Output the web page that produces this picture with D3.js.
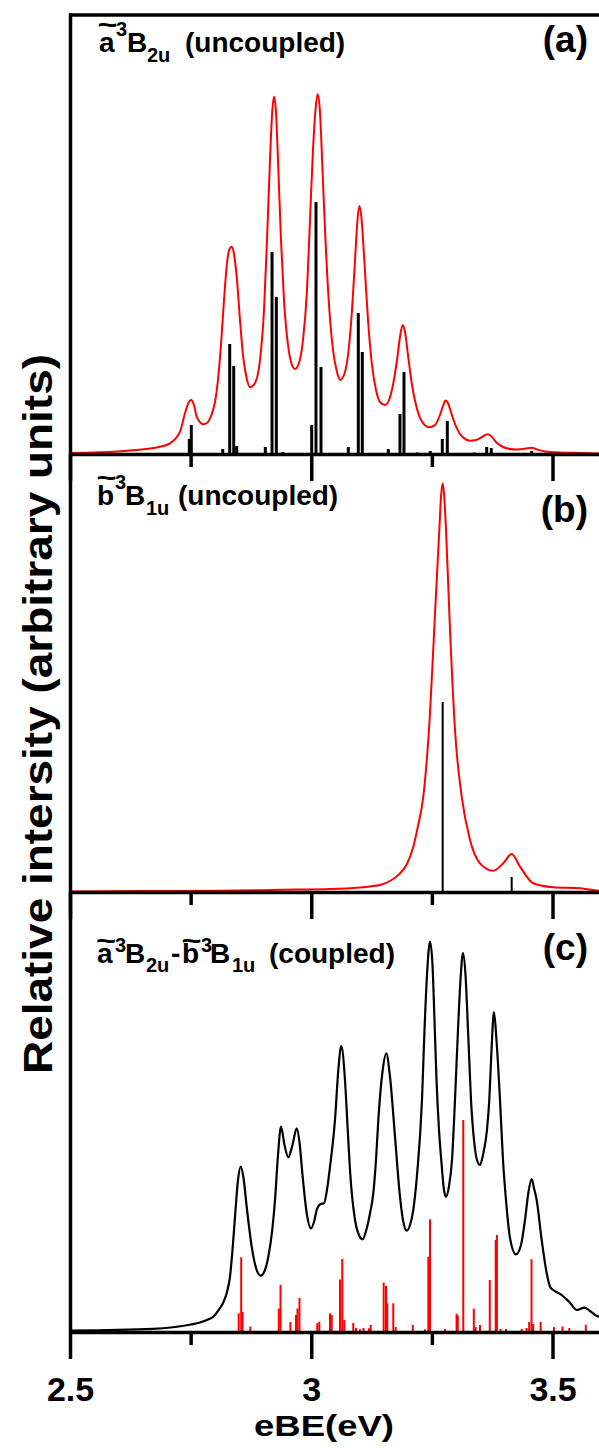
<!DOCTYPE html>
<html>
<head>
<meta charset="utf-8">
<script src="https://cdn.jsdelivr.net/npm/d3@7"></script>
<style>
  body { margin: 0; background: #fff; }
  svg { display: block; }
  text { font-family: "Liberation Sans", Arial, Helvetica, sans-serif; font-weight: bold; fill: #000; }
</style>
</head>
<body>
<svg id="chart" width="599" height="1448"></svg>
<script>
// ---- data: electron binding energy (eV) and relative intensity (arbitrary units) ----

const xTicks = [2.5, 2.75, 3, 3.25, 3.5];
const xTickLabels = ["2.5", "", "3", "", "3.5"];

// (a) ã3B2u uncoupled: broadened envelope and stick spectrum
const envelopeA = [
  [2.5000,1.0],[2.5622,1.7],[2.6244,3.5],[2.6865,7.3],[2.7073,10.7],[2.7280,22.3],[2.7383,40.7],
  [2.7452,50.7],[2.7508,54.0],[2.7570,49.0],[2.7626,37.3],[2.7763,29.7],[2.7839,31.0],[2.7922,38.0],
  [2.8005,52.0],[2.8067,74.0],[2.8129,109.0],[2.8192,154.0],[2.8254,191.0],[2.8306,205.0],[2.8351,207.3],
  [2.8399,200.0],[2.8461,174.0],[2.8523,134.0],[2.8585,99.0],[2.8648,79.0],[2.8731,66.7],[2.8834,71.0],
  [2.8938,94.0],[2.9021,144.0],[2.9083,214.0],[2.9145,294.0],[2.9187,339.0],[2.9228,357.3],[2.9269,342.0],
  [2.9311,294.0],[2.9373,214.0],[2.9435,154.0],[2.9518,109.0],[2.9601,89.0],[2.9663,85.0],[2.9746,91.0],
  [2.9829,114.0],[2.9912,164.0],[2.9974,234.0],[3.0036,304.0],[3.0088,344.0],[3.0134,359.7],[3.0181,342.0],
  [3.0233,284.0],[3.0295,214.0],[3.0368,149.0],[3.0451,104.0],[3.0534,82.0],[3.0596,74.0],[3.0679,79.0],
  [3.0762,99.0],[3.0845,144.0],[3.0907,194.0],[3.0958,234.0],[3.0996,248.0],[3.1041,236.0],[3.1093,199.0],
  [3.1176,134.0],[3.1259,89.0],[3.1342,64.0],[3.1425,52.0],[3.1528,49.0],[3.1611,54.0],[3.1694,69.0],
  [3.1777,94.0],[3.1839,117.0],[3.1895,129.0],[3.1943,122.0],[3.2005,99.0],[3.2088,69.0],[3.2171,49.0],
  [3.2275,34.0],[3.2447,26.7],[3.2565,29.0],[3.2668,39.0],[3.2730,48.0],[3.2786,53.5],[3.2834,51.0],
  [3.2896,42.0],[3.2979,30.0],[3.3083,20.0],[3.3207,14.5],[3.3290,13.3],[3.3414,14.0],[3.3539,17.0],
  [3.3649,19.7],[3.3725,18.0],[3.3829,12.0],[3.3974,7.0],[3.4119,5.0],[3.4264,4.5],[3.4430,5.2],
  [3.4569,6.3],[3.4679,4.5],[3.4844,2.5],[3.5155,1.5],[3.5570,1.0],[3.6005,0.5]
];
const sticksA = [
  [2.7473,15],[2.7514,29],[2.8165,5],[2.8310,110],[2.8393,88],[2.8455,8],[2.9048,7],[2.9187,202],
  [2.9276,157],[2.9408,2],[3.0009,29],[3.0098,252],[3.0202,87],[3.0768,7],[3.0975,141],[3.1058,102],
  [3.1321,1],[3.1597,5],[3.1839,40],[3.1922,82],[3.2198,1.5],[3.2467,3],[3.2716,15],[3.2820,33],
  [3.3379,1.5],[3.3636,7],[3.3731,6],[3.4569,3]
];

// (b) b̃3B1u uncoupled
const envelopeB = [
  [2.5000,0.6],[2.6658,0.9],[2.8109,1.2],[2.9352,2.2],[3.0389,3.0],[3.1010,4.6],[3.1218,5.6],
  [3.1425,7.0],[3.1632,11.0],[3.1839,18.7],[3.1984,28.0],[3.2115,45.3],[3.2212,66.0],[3.2322,95.3],
  [3.2461,178.7],[3.2565,278.7],[3.2654,362.0],[3.2689,395.0],[3.2724,408.7],[3.2757,395.0],[3.2793,362.0],
  [3.2876,262.0],[3.2979,162.0],[3.3118,95.3],[3.3290,52.0],[3.3497,28.7],[3.3773,21.3],[3.3980,28.7],
  [3.4154,38.0],[3.4326,25.3],[3.4602,8.7],[3.5016,4.7],[3.5570,3.7],[3.5964,1.3],[3.6005,1.2]
];
const sticksB = [[3.2724,190],[3.4154,15]];

// (c) coupled ã3B2u - b̃3B1u
const envelopeC = [
  [2.5000,1.5],[2.6720,3.2],[2.7508,7.5],[2.7694,9.5],[2.7860,12.5],[2.7970,15.3],[2.8073,21.5],
  [2.8177,29.5],[2.8254,40.0],[2.8316,55.3],[2.8368,82.0],[2.8420,115.3],[2.8482,152.0],[2.8538,165.3],
  [2.8596,154.0],[2.8662,125.3],[2.8766,85.3],[2.8855,64.0],[2.8952,56.3],[2.9041,62.0],[2.9110,75.3],
  [2.9187,100.0],[2.9249,132.0],[2.9311,177.0],[2.9373,205.3],[2.9446,187.0],[2.9524,174.7],[2.9611,187.0],
  [2.9698,203.7],[2.9756,190.0],[2.9819,157.0],[2.9906,118.7],[2.9995,103.7],[3.0057,110.0],[3.0113,122.0],
  [3.0196,128.0],[3.0264,128.7],[3.0326,142.0],[3.0389,165.3],[3.0492,212.0],[3.0561,262.0],[3.0623,286.0],
  [3.0699,252.0],[3.0751,207.0],[3.0803,162.0],[3.0907,112.0],[3.0979,98.0],[3.1066,92.7],[3.1135,101.0],
  [3.1218,118.7],[3.1286,138.7],[3.1342,172.0],[3.1390,212.0],[3.1481,262.0],[3.1555,278.7],[3.1632,255.3],
  [3.1736,195.3],[3.1839,135.3],[3.1901,112.0],[3.1978,101.3],[3.2047,107.0],[3.2115,122.0],[3.2192,157.0],
  [3.2295,232.0],[3.2347,302.0],[3.2399,357.0],[3.2461,390.3],[3.2513,367.0],[3.2554,312.0],[3.2596,252.0],
  [3.2648,202.0],[3.2703,167.0],[3.2751,142.0],[3.2793,135.3],[3.2855,146.0],[3.2917,172.0],[3.2979,232.0],
  [3.3041,302.0],[3.3093,352.0],[3.3145,379.0],[3.3197,357.0],[3.3249,302.0],[3.3311,232.0],[3.3373,192.0],
  [3.3435,172.0],[3.3497,167.0],[3.3559,177.0],[3.3642,202.0],[3.3690,232.0],[3.3736,282.0],[3.3787,320.0],
  [3.3839,292.0],[3.3912,232.0],[3.3974,172.0],[3.4036,132.0],[3.4119,94.0],[3.4243,77.7],[3.4347,87.0],
  [3.4430,112.0],[3.4502,140.0],[3.4569,153.0],[3.4616,144.0],[3.4672,132.0],[3.4776,92.0],[3.4880,58.7],
  [3.4952,45.0],[3.5016,42.0],[3.5191,37.0],[3.5348,30.0],[3.5508,22.0],[3.5665,24.3],[3.5777,21.0],
  [3.5901,16.6],[3.6005,15.0]
];
const sticksC = [
  [2.8496,18.7],[2.8548,74.7],[2.8575,20],[2.8737,5.5],[2.9327,23.5],[2.9363,47],[2.9568,10],
  [2.9684,17],[2.9715,23.5],[2.9756,34],[3.0125,8.7],[3.0167,10.3],[3.0389,18.7],[3.0424,17],
  [3.0596,52.5],[3.0643,73],[3.0685,12],[3.0871,9],[3.0927,4],[3.1010,2.7],[3.1083,4],[3.1197,3.7],
  [3.1232,7],[3.1501,49.3],[3.1549,46],[3.1576,28.7],[3.1700,28.7],[3.1750,5],[3.2105,7],[3.2357,2.7],
  [3.2426,75.3],[3.2461,112.7],[3.2772,3],[3.3012,18.3],[3.3037,16.5],[3.3151,212],[3.3369,23.3],
  [3.3408,5],[3.3497,7],[3.3700,52],[3.3823,92],[3.3848,97],[3.3924,3],[3.4036,3],[3.4360,3],
  [3.4463,4],[3.4517,10],[3.4565,72.7],[3.4600,8],[3.4755,10],[3.5031,5],[3.5207,5.5],[3.5348,4],
  [3.5690,7.2]
];

const yAxisTitle = "Relative intersity (arbitrary units)";
const xAxisTitle = "eBE(eV)";

// ---- layout ----
const svg = d3.select("#chart");
const left = 70, frameTop = 15;
const x = d3.scaleLinear().domain([2.5, 3.6]).range([left, left + 1.1 * 482.5]);
const xRight = x(3.6);

const panels = [
  { top: frameTop, bottom: 454, max: 439, env: envelopeA, sticks: sticksA,
    envColor: "#ff0000", stickColor: "#000", stickWidth: 3, envWidth: 2 },
  { top: 454, bottom: 892, max: 438, env: envelopeB, sticks: sticksB,
    envColor: "#ff0000", stickColor: "#000", stickWidth: 2, envWidth: 2 },
  { top: 892, bottom: 1332, max: 440, env: envelopeC, sticks: sticksC,
    envColor: "#000", stickColor: "#ff0000", stickWidth: 2, envWidth: 2.2 }
];

const AXW = 3.5;

panels.forEach((p, i) => {
  const y = d3.scaleLinear().domain([0, p.max]).range([p.bottom, p.top]);
  const g = svg.append("g");

  // stick spectrum
  g.selectAll("line.stick").data(p.sticks).join("line")
    .attr("class", "stick")
    .attr("x1", d => x(d[0])).attr("x2", d => x(d[0]))
    .attr("y1", y(0)).attr("y2", d => y(d[1]))
    .attr("stroke", p.stickColor).attr("stroke-width", p.stickWidth);

  // broadened envelope
  const line = d3.line().x(d => x(d[0])).y(d => y(d[1])).curve(d3.curveMonotoneX);
  g.append("path").datum(p.env)
    .attr("d", line)
    .attr("fill", "none").attr("stroke", p.envColor)
    .attr("stroke-width", p.envWidth).attr("stroke-linejoin", "round");

  // bottom axis of the panel
  const isLast = i === panels.length - 1;
  const axis = d3.axisBottom(x).tickValues(xTicks).tickSize(27).tickSizeOuter(0).tickPadding(0)
    .tickFormat((d, k) => isLast ? xTickLabels[k] : "");
  const ag = svg.append("g").attr("transform", `translate(0,${p.bottom})`).call(axis);
  ag.select(".domain").attr("stroke", "#000").attr("stroke-width", AXW);
  ag.selectAll(".tick line").attr("stroke", "#000").attr("stroke-width", AXW)
    .attr("y2", d => (d === 2.75 || d === 3.25) ? 13 : 27);
  ag.selectAll(".tick text")
    .attr("y", 69).attr("dy", 0)
    .style("font-family", "'Liberation Sans', Arial, sans-serif")
    .style("font-weight", "bold").attr("font-size", 34).attr("fill", "#000");
});

// frame: left axis, top and right borders
svg.append("line").attr("x1", left + 0.5).attr("x2", left + 0.5)
  .attr("y1", frameTop - AXW / 2).attr("y2", panels[2].bottom)
  .attr("stroke", "#000").attr("stroke-width", AXW);
svg.append("line").attr("x1", left).attr("x2", xRight + 2)
  .attr("y1", frameTop).attr("y2", frameTop)
  .attr("stroke", "#000").attr("stroke-width", AXW);
svg.append("line").attr("x1", xRight).attr("x2", xRight)
  .attr("y1", frameTop).attr("y2", panels[2].bottom)
  .attr("stroke", "#000").attr("stroke-width", AXW);

// ---- labels ----
function txt(xp, yp, s, size, extra) {
  const t = svg.append("text").attr("x", xp).attr("y", yp).attr("font-size", size).text(s);
  if (extra) extra(t);
  return t;
}
function tilde(cx, yBase) {
  txt(cx, yBase, "~", 28, t => t.attr("text-anchor", "middle")
    .attr("textLength", 20).attr("lengthAdjust", "spacingAndGlyphs"));
}

// (a) title
txt(99, 52, "a", 28); tilde(107.5, 34);
txt(116, 36, "3", 20);
txt(127, 52, "B", 28);
txt(147, 61.5, "2u", 20);
txt(185, 52, "(uncoupled)", 28);
txt(588, 52, "(a)", 37, t => t.attr("text-anchor", "end"));

// (b) title
txt(97, 505, "b", 28); tilde(106.5, 487);
txt(115, 489, "3", 20);
txt(125, 505, "B", 28);
txt(146, 514.5, "1u", 20);
txt(178, 505, "(uncoupled)", 28);
txt(588, 522, "(b)", 37, t => t.attr("text-anchor", "end"));

// (c) title
txt(97, 963, "a", 28); tilde(106, 950);
txt(115, 952, "3", 20);
txt(125, 963, "B", 28);
txt(146, 972, "2u", 20);
txt(171, 963, "-", 28);
txt(182, 963, "b", 28); tilde(191.5, 950);
txt(201, 952, "3", 20);
txt(210, 963, "B", 28);
txt(232, 972, "1u", 20);
txt(269, 963, "(coupled)", 28);
txt(588, 960, "(c)", 37, t => t.attr("text-anchor", "end"));

// axis titles
svg.append("text")
  .attr("transform", "translate(52,714) rotate(-90)")
  .attr("text-anchor", "middle").attr("font-size", 40)
  .attr("textLength", 720).attr("lengthAdjust", "spacingAndGlyphs")
  .text(yAxisTitle);
svg.append("text")
  .attr("x", 324).attr("y", 1436).attr("text-anchor", "middle").attr("font-size", 30)
  .attr("textLength", 140).attr("lengthAdjust", "spacingAndGlyphs")
  .text(xAxisTitle);
</script>
</body>
</html>
